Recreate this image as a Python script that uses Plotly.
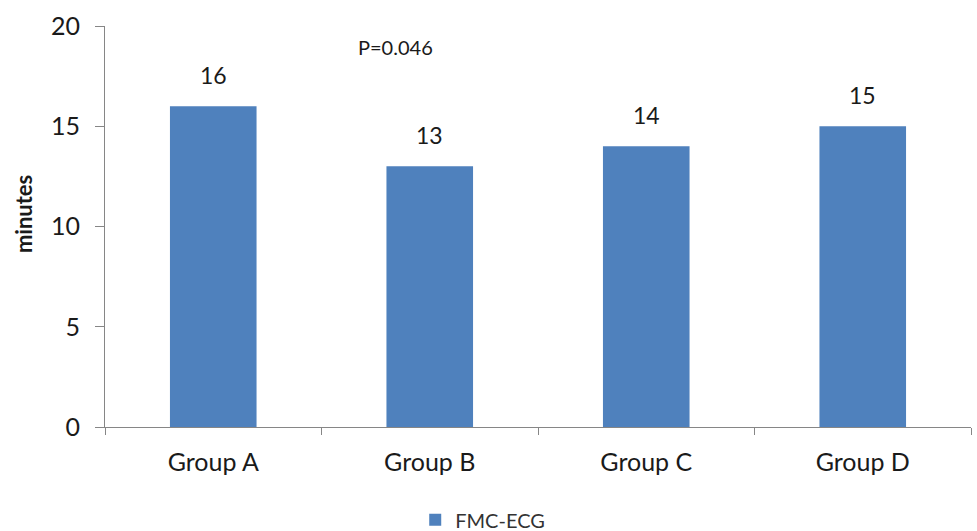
import plotly.graph_objects as go

# FMC-to-ECG time per group
groups = ["Group A", "Group B", "Group C", "Group D"]
fmc_ecg = [16, 13, 14, 15]
series_name = "FMC-ECG"
p_value_text = "P=0.046"
y_title = "minutes"

bar_color = "#4F81BD"
axis_color = "#868686"
text_color = "#1a1a1a"
font_family = "Lato, Open Sans, sans-serif"

fig = go.Figure()
fig.add_trace(go.Bar(
    x=groups,
    y=fmc_ecg,
    name=series_name,
    marker=dict(color=bar_color, line=dict(width=0)),
    showlegend=True,
))

# value labels above each bar
for g, v in zip(groups, fmc_ecg):
    fig.add_annotation(
        x=g, y=v, text=str(v), showarrow=False,
        yanchor="bottom", yshift=15,
        font=dict(family=font_family, size=23, color=text_color),
    )

fig.add_annotation(
    xref="paper", yref="paper", x=0.335, y=0.948,
    text=p_value_text, showarrow=False, xanchor="center", yanchor="middle",
    font=dict(family=font_family, size=20, color=text_color),
)

# rotated y-axis title
fig.add_annotation(
    xref="paper", yref="paper", x=-0.094, y=0.53,
    text=f"<b>{y_title}</b>", showarrow=False, textangle=-90,
    xanchor="center", yanchor="middle",
    font=dict(family=font_family, size=22, color=text_color),
)

fig.update_layout(
    width=977, height=531,
    margin=dict(l=105, r=6, t=26, b=104),
    plot_bgcolor="white", paper_bgcolor="white",
    bargap=0.6,
    font=dict(family=font_family, color=text_color),
    legend=dict(
        orientation="h",
        xref="container", yref="container",
        x=0.425, xanchor="left", y=0.021, yanchor="middle",
        font=dict(family=font_family, size=20, color="#333333"),
        itemwidth=30,
    ),
    xaxis=dict(
        showline=True, linecolor=axis_color, linewidth=1,
        ticks="outside", tickson="boundaries", ticklen=7, tickcolor=axis_color,
        tickfont=dict(family=font_family, size=25, color=text_color),
        ticklabelstandoff=13,
        showgrid=False, zeroline=False,
    ),
    yaxis=dict(
        range=[0, 20], dtick=5,
        showline=True, linecolor=axis_color, linewidth=1,
        ticks="outside", ticklen=9, tickcolor=axis_color,
        tickfont=dict(family=font_family, size=25, color=text_color),
        ticklabelstandoff=10,
        showgrid=False, zeroline=False,
    ),
)

fig.write_html("out.html")
